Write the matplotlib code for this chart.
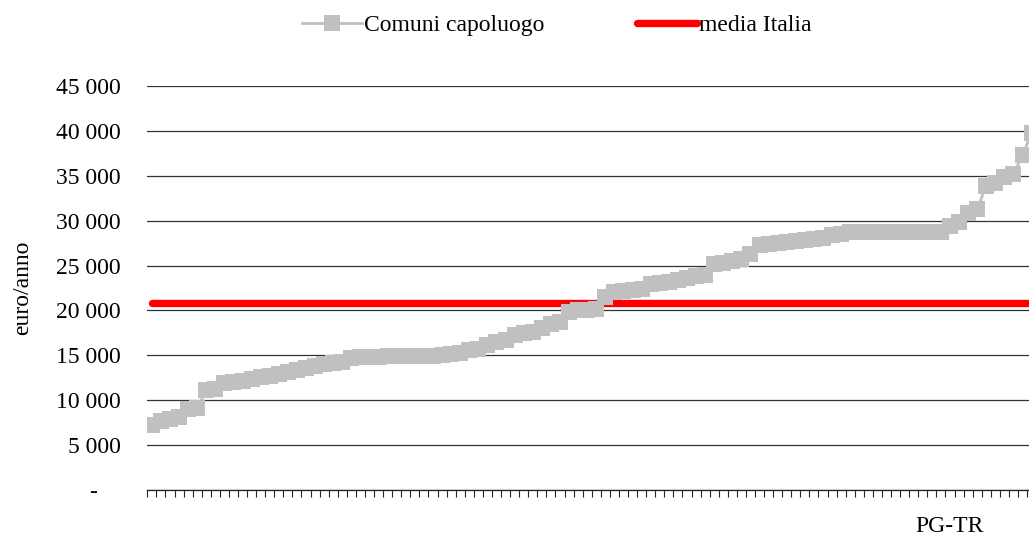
# Reddito medio per comune capoluogo (ordinato) confrontato con la media italiana.

import numpy as np
import matplotlib.pyplot as plt
from matplotlib.ticker import FixedLocator, FuncFormatter

plt.rcParams['font.family'] = ['Liberation Serif', 'DejaVu Serif']

# Valori (euro/anno), un punto per comune, in ordine crescente.
comuni = [7250, 7700, 7900, 8100, 9000, 9100, 11100, 11300,
          11900, 12000, 12150, 12330, 12590, 12740, 12960, 13180,
          13400, 13630, 13810, 14000, 14150, 14300, 14660, 14810,
          14850, 14870, 14880, 14890, 14900, 14900,
          14920, 14950, 15000, 15100, 15250, 15600, 15700, 16200, 16500, 16700,
          17300, 17500, 17600, 18100, 18500, 18700, 19800, 20000, 20100, 20200,
          21500, 22000, 22200, 22300, 22400, 22900, 23100, 23200, 23400, 23600,
          23800, 24000, 25200, 25250,
          25500, 25700, 26300, 27300, 27400, 27500, 27600, 27700, 27800, 28000,
          28100, 28400, 28500,
          28700, 28720, 28740, 28750, 28750, 28760, 28760, 28770, 28780, 28780, 28790,
          29400, 29900, 30800, 31300, 33900, 34200, 34900, 35200, 37300, 39800]
media_italia = 20800

# Etichette delle categorie: nel grafico si legge solo una.
etichette = [""] * len(comuni)
etichette[88] = "PG-TR"

y_ticks = [0, 5000, 10000, 15000, 20000, 25000, 30000, 35000, 40000, 45000]

n = len(comuni)
x = np.arange(n)
fs = 17

fig = plt.figure(figsize=(10.29, 5.40), dpi=100)
left = 147.3 / 1029
bottom = (540 - 490) / 540
width = n * 9.07 / 1029
height = (490 - 86) / 540
ax = fig.add_axes([left, bottom, width, height])

# media Italia sotto, comuni sopra
ax.plot(x, [media_italia] * n, color="red", linewidth=5.3,
        solid_capstyle="round", label="media Italia", zorder=2)
ax.plot(x, comuni, color="#c0c0c0", linewidth=2, marker="s", markersize=11,
        markeredgewidth=0, label="Comuni capoluogo", zorder=3)

ax.set_xlim(-0.5, n - 0.5)
ax.set_ylim(0, 45000)

# griglia orizzontale
ax.set_yticks(y_ticks)
ax.yaxis.set_major_formatter(FuncFormatter(
    lambda v, p: "-    " if v == 0 else f"{int(v):,}".replace(",", " ")))
ax.grid(axis="y", color="#333333", linewidth=0.9, zorder=0)
ax.set_axisbelow(True)
ax.tick_params(axis="y", length=0, pad=19, labelsize=fs)

# tacche tra le categorie, etichetta come tick minore
ax.xaxis.set_major_locator(FixedLocator(np.arange(-0.5, n, 1)))
ax.xaxis.set_major_formatter(FuncFormatter(lambda v, p: ""))
idx = [i for i, e in enumerate(etichette) if e]
ax.xaxis.set_minor_locator(FixedLocator(idx))
ax.xaxis.set_minor_formatter(FuncFormatter(lambda v, p: etichette[int(round(v))]))
ax.tick_params(axis="x", which="major", length=5, width=0.8, color="#222222", direction="out")
ax.tick_params(axis="x", which="minor", length=0, pad=19, labelsize=fs)

for s in ["top", "right", "left"]:
    ax.spines[s].set_visible(False)
ax.spines["bottom"].set_color("#222222")
ax.spines["bottom"].set_linewidth(0.9)

ax.set_ylabel("euro/anno", fontsize=fs)
ax.yaxis.set_label_coords(-0.128, 0.5)

h, l = ax.get_legend_handles_labels()
fig.legend(h[::-1], l[::-1], loc="center", bbox_to_anchor=(0.541, 1 - 25 / 540),
           ncol=2, frameon=False, fontsize=fs, handlelength=2.55,
           handletextpad=0.1, columnspacing=3.9, borderpad=0)

plt.savefig("out.png", dpi=100)
